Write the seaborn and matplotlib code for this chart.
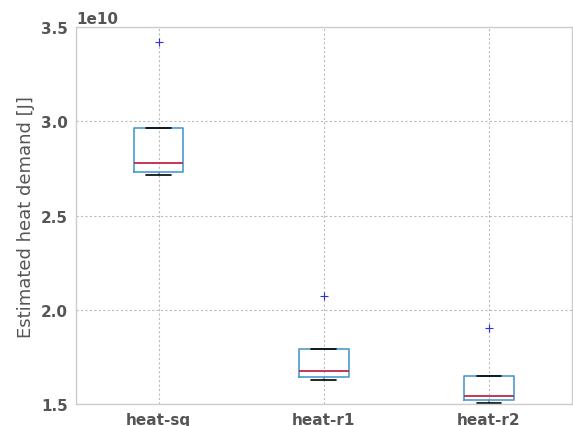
import numpy as np
import pandas as pd
import matplotlib
matplotlib.use("Agg")
import matplotlib.pyplot as plt
import seaborn as sns

# raw demand samples (J), five runs per method
categories = ["heat-sq", "heat-r1", "heat-r2"]
heat_sq = [2.713e10, 2.729e10, 2.778e10, 2.964e10, 3.42e10]
heat_r1 = [1.627e10, 1.643e10, 1.675e10, 1.793e10, 2.075e10]
heat_r2 = [1.507e10, 1.520e10, 1.544e10, 1.650e10, 1.902e10]

df = pd.DataFrame({
    "method": np.repeat(categories, 5),
    "demand": heat_sq + heat_r1 + heat_r2,
})

sns.set_style("whitegrid")
plt.rcParams["font.family"] = ["DejaVu Sans"]

fig = plt.figure(figsize=(5.73, 4.27), dpi=100)
ax = fig.add_axes([0.1326, 0.0515, 0.865, 0.8825])

box_c = "#4C9BD0"
sns.boxplot(data=df, x="method", y="demand", order=categories, ax=ax,
            width=0.3, fill=False, whis=1.5, linewidth=1.2, color=box_c,
            boxprops=dict(color=box_c, linewidth=1.2),
            whiskerprops=dict(color=box_c, linewidth=1.2),
            capprops=dict(color="black", linewidth=1.2),
            medianprops=dict(color="#C0284C", linewidth=1.3),
            flierprops=dict(marker="+", markeredgecolor="#3030E0", markersize=6,
                            markeredgewidth=0.8))

ax.set_xlim(-0.5, 2.5)
ax.set_ylim(1.5e10, 3.5e10)
ax.set_yticks([1.5e10, 2.0e10, 2.5e10, 3.0e10, 3.5e10])
ax.grid(True, linestyle=(0, (2, 2)), color="#bbbbbb", linewidth=0.8)
ax.set_axisbelow(True)
for s in ax.spines.values():
    s.set_color("#cccccc")
    s.set_linewidth(1)
ax.tick_params(length=0, labelsize=11, labelcolor="#555555", pad=6)
for lab in ax.get_xticklabels() + ax.get_yticklabels():
    lab.set_fontweight("bold")
ax.yaxis.get_offset_text().set_fontweight("bold")
ax.yaxis.get_offset_text().set_color("#555555")
ax.yaxis.get_offset_text().set_fontsize(11)
ax.set_xlabel("")
ax.set_ylabel("Estimated heat demand [J]", fontsize=13, color="#555555")

fig.savefig("out.png", dpi=100)
